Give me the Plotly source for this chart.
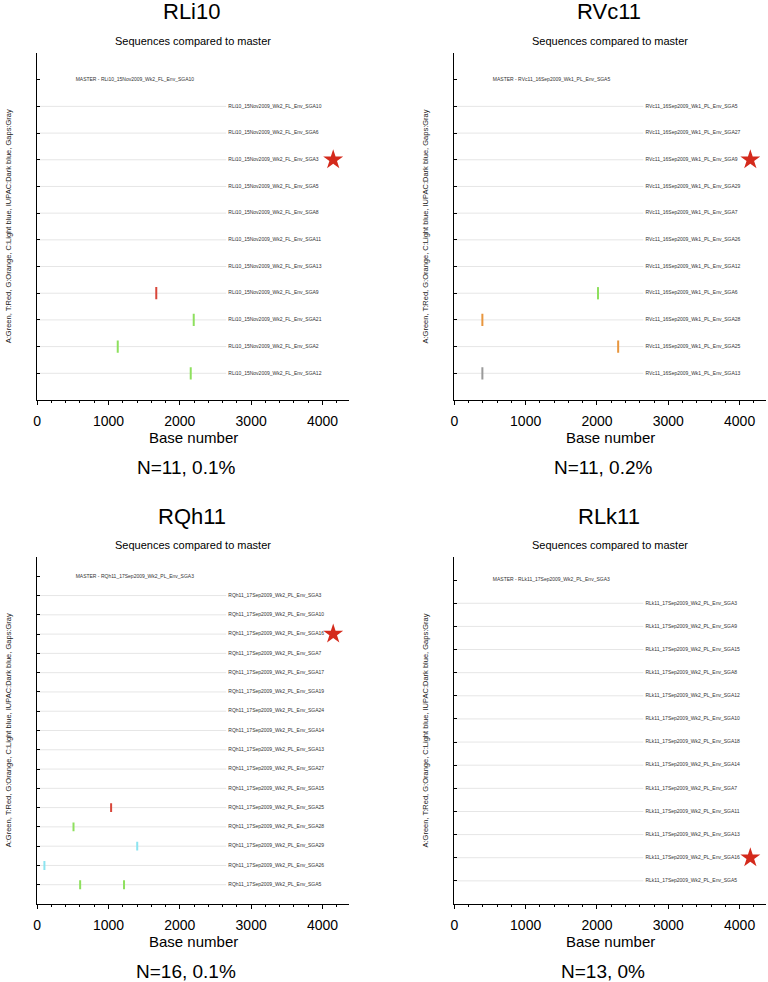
import plotly.graph_objects as go

# ---------------- data ----------------
titles = ["RLi10", "RVc11", "RQh11", "RLk11"]
footers = ["N=11, 0.1%", "N=11, 0.2%", "N=16, 0.1%", "N=13, 0%"]
prefixes = ["RLi10_15Nov2009_Wk2_FL_Env_", "RVc11_16Sep2009_Wk1_PL_Env_",
            "RQh11_17Sep2009_Wk2_PL_Env_", "RLk11_17Sep2009_Wk2_PL_Env_"]
master_ids = ["SGA10", "SGA5", "SGA3", "SGA3"]

rli10_seqs = ["SGA10", "SGA6", "SGA3", "SGA5", "SGA8", "SGA11", "SGA13", "SGA9", "SGA21", "SGA2", "SGA12"]
rvc11_seqs = ["SGA5", "SGA27", "SGA9", "SGA29", "SGA7", "SGA26", "SGA12", "SGA6", "SGA28", "SGA25", "SGA13"]
rqh11_seqs = ["SGA3", "SGA10", "SGA16", "SGA7", "SGA17", "SGA19", "SGA24", "SGA14", "SGA13", "SGA27",
              "SGA15", "SGA25", "SGA28", "SGA29", "SGA26", "SGA5"]
rlk11_seqs = ["SGA3", "SGA9", "SGA15", "SGA8", "SGA12", "SGA10", "SGA18", "SGA14", "SGA7", "SGA11",
              "SGA13", "SGA16", "SGA5"]

rli10_mut_seq = ["SGA9", "SGA21", "SGA2", "SGA12"]
rli10_mut_pos = [1670, 2195, 1130, 2153]
rli10_mut_base = ["T", "A", "A", "A"]

rvc11_mut_seq = ["SGA6", "SGA28", "SGA25", "SGA13"]
rvc11_mut_pos = [2014, 393, 2297, 393]
rvc11_mut_base = ["A", "G", "G", "-"]

rqh11_mut_seq = ["SGA25", "SGA28", "SGA29", "SGA26", "SGA5", "SGA5"]
rqh11_mut_pos = [1037, 510, 1403, 102, 603, 1218]
rqh11_mut_base = ["T", "A", "C", "C", "A", "A"]

rlk11_mut_seq = []
rlk11_mut_pos = []
rlk11_mut_base = []

star_seq = ["SGA3", "SGA9", "SGA16", "SGA16"]
star_pos = [4150, 4150, 4150, 4150]

x_ticks = [0, 1000, 2000, 3000, 4000]

# ---------------- styling ----------------
W, H = 768, 982
FONT = "Liberation Sans, Arial, Helvetica, sans-serif"
base_colors = {"A": "#8ee05e", "T": "#d8463a", "G": "#e8963e", "C": "#8ce4f0",
               "N": "#2233aa", "-": "#9a9a9a"}
# panel boxes in pixels: left, right, top, bottom
boxes = [(33.3, 346.7, 53, 400), (452.7, 766, 53, 400),
         (33.3, 346.7, 557, 904), (452.7, 766, 557, 904)]
XMAX = 4370
LABEL_X = 2680
LINE_END = 2650
MASTER_X = 540

seqs_all = [rli10_seqs, rvc11_seqs, rqh11_seqs, rlk11_seqs]
muts_all = [(rli10_mut_seq, rli10_mut_pos, rli10_mut_base),
            (rvc11_mut_seq, rvc11_mut_pos, rvc11_mut_base),
            (rqh11_mut_seq, rqh11_mut_pos, rqh11_mut_base),
            (rlk11_mut_seq, rlk11_mut_pos, rlk11_mut_base)]


def px(x):
    return x / W


def py(y):
    return 1 - y / H


fig = go.Figure()
layout = dict(width=W, height=H, margin=dict(l=0, r=0, t=0, b=0),
              paper_bgcolor="white", plot_bgcolor="white", showlegend=False,
              font=dict(family=FONT, color="black"))
annotations = []

for k in range(4):
    seqs = seqs_all[k]
    n = len(seqs)
    rowy = {s: n - i for i, s in enumerate(seqs)}
    xa = "x" if k == 0 else f"x{k + 1}"
    ya = "y" if k == 0 else f"y{k + 1}"
    l, r, t, b = boxes[k]

    # grid lines
    gx, gy = [], []
    for s in seqs:
        gx += [0, LINE_END, None]
        gy += [rowy[s], rowy[s], None]
    fig.add_trace(go.Scatter(x=gx, y=gy, mode="lines", xaxis=xa, yaxis=ya,
                             line=dict(color="#e6e6e6", width=1), hoverinfo="skip"))
    # sequence labels
    fig.add_trace(go.Scatter(x=[LABEL_X] * n, y=[rowy[s] for s in seqs], mode="text",
                             text=[prefixes[k] + s for s in seqs], textposition="middle right",
                             textfont=dict(size=5, color="#333333", family=FONT),
                             xaxis=xa, yaxis=ya, hoverinfo="skip"))
    # master label
    fig.add_trace(go.Scatter(x=[MASTER_X], y=[n + 1], mode="text",
                             text=["MASTER - " + prefixes[k] + master_ids[k]],
                             textposition="middle right",
                             textfont=dict(size=5, color="#333333", family=FONT),
                             xaxis=xa, yaxis=ya, hoverinfo="skip"))
    # mutations
    mseq, mpos, mbase = muts_all[k]
    for bch in sorted(set(mbase)):
        mx, my = [], []
        for s, p, bb in zip(mseq, mpos, mbase):
            if bb == bch:
                mx += [p, p, None]
                my += [rowy[s] - 0.23, rowy[s] + 0.23, None]
        fig.add_trace(go.Scatter(x=mx, y=my, mode="lines", xaxis=xa, yaxis=ya,
                                 line=dict(color=base_colors[bch], width=2), hoverinfo="skip"))
    # star
    fig.add_trace(go.Scatter(x=[star_pos[k]], y=[rowy[star_seq[k]]], mode="markers",
                             marker=dict(symbol="star", size=15, color="#d42a1c",
                                         line=dict(width=0)),
                             xaxis=xa, yaxis=ya, hoverinfo="skip"))

    axkey = "xaxis" if k == 0 else f"xaxis{k + 1}"
    aykey = "yaxis" if k == 0 else f"yaxis{k + 1}"
    layout[axkey] = dict(domain=[px(l), px(r)], anchor=ya, range=[0, XMAX],
                         tickvals=x_ticks, ticks="outside", ticklen=4, tickwidth=1,
                         tickcolor="black", showline=True, linecolor="black", linewidth=1.3,
                         showgrid=False, zeroline=False, ticklabelstandoff=4,
                         tickfont=dict(size=14, family=FONT, color="black"),
                         minor=dict(dtick=200, tick0=0, ticks="outside", ticklen=2,
                                    tickcolor="black", showgrid=False))
    layout[aykey] = dict(domain=[py(b), py(t)], anchor=xa, range=[0, n + 2],
                         tickvals=list(range(0, n + 3)), ticks="inside", ticklen=3,
                         tickcolor="black", showticklabels=False, showline=True,
                         linecolor="black", linewidth=1.3, showgrid=False, zeroline=False)

    cx = (l + r) / 2
    annotations += [
        dict(text=titles[k], x=px(cx - 1.5), y=py(t - 41), xref="paper", yref="paper",
             showarrow=False, xanchor="center", yanchor="middle", font=dict(size=22, family=FONT)),
        dict(text="Sequences compared to master", x=px(cx), y=py(t - 12), xref="paper",
             yref="paper", showarrow=False, xanchor="center", yanchor="middle",
             font=dict(size=11, family=FONT)),
        dict(text="Base number", x=px(cx), y=py(b + 37), xref="paper", yref="paper",
             showarrow=False, xanchor="center", yanchor="middle", font=dict(size=15, family=FONT)),
        dict(text=footers[k], x=px(cx - 7), y=py(b + 67), xref="paper", yref="paper",
             showarrow=False, xanchor="center", yanchor="middle", font=dict(size=19, family=FONT)),
        dict(text="A:Green, T:Red, G:Orange, C:Light blue, IUPAC:Dark blue, Gaps:Gray",
             x=px(l - 28.5), y=py((t + b) / 2), xref="paper", yref="paper", showarrow=False,
             textangle=-90, xanchor="center", yanchor="middle",
             font=dict(size=7.5, family=FONT, color="#222222")),
    ]

layout["annotations"] = annotations
fig.update_layout(**layout)
fig.write_html("out.html", config={"displayModeBar": False},
               post_script="document.body.style.margin='0';document.body.style.padding='0';")
